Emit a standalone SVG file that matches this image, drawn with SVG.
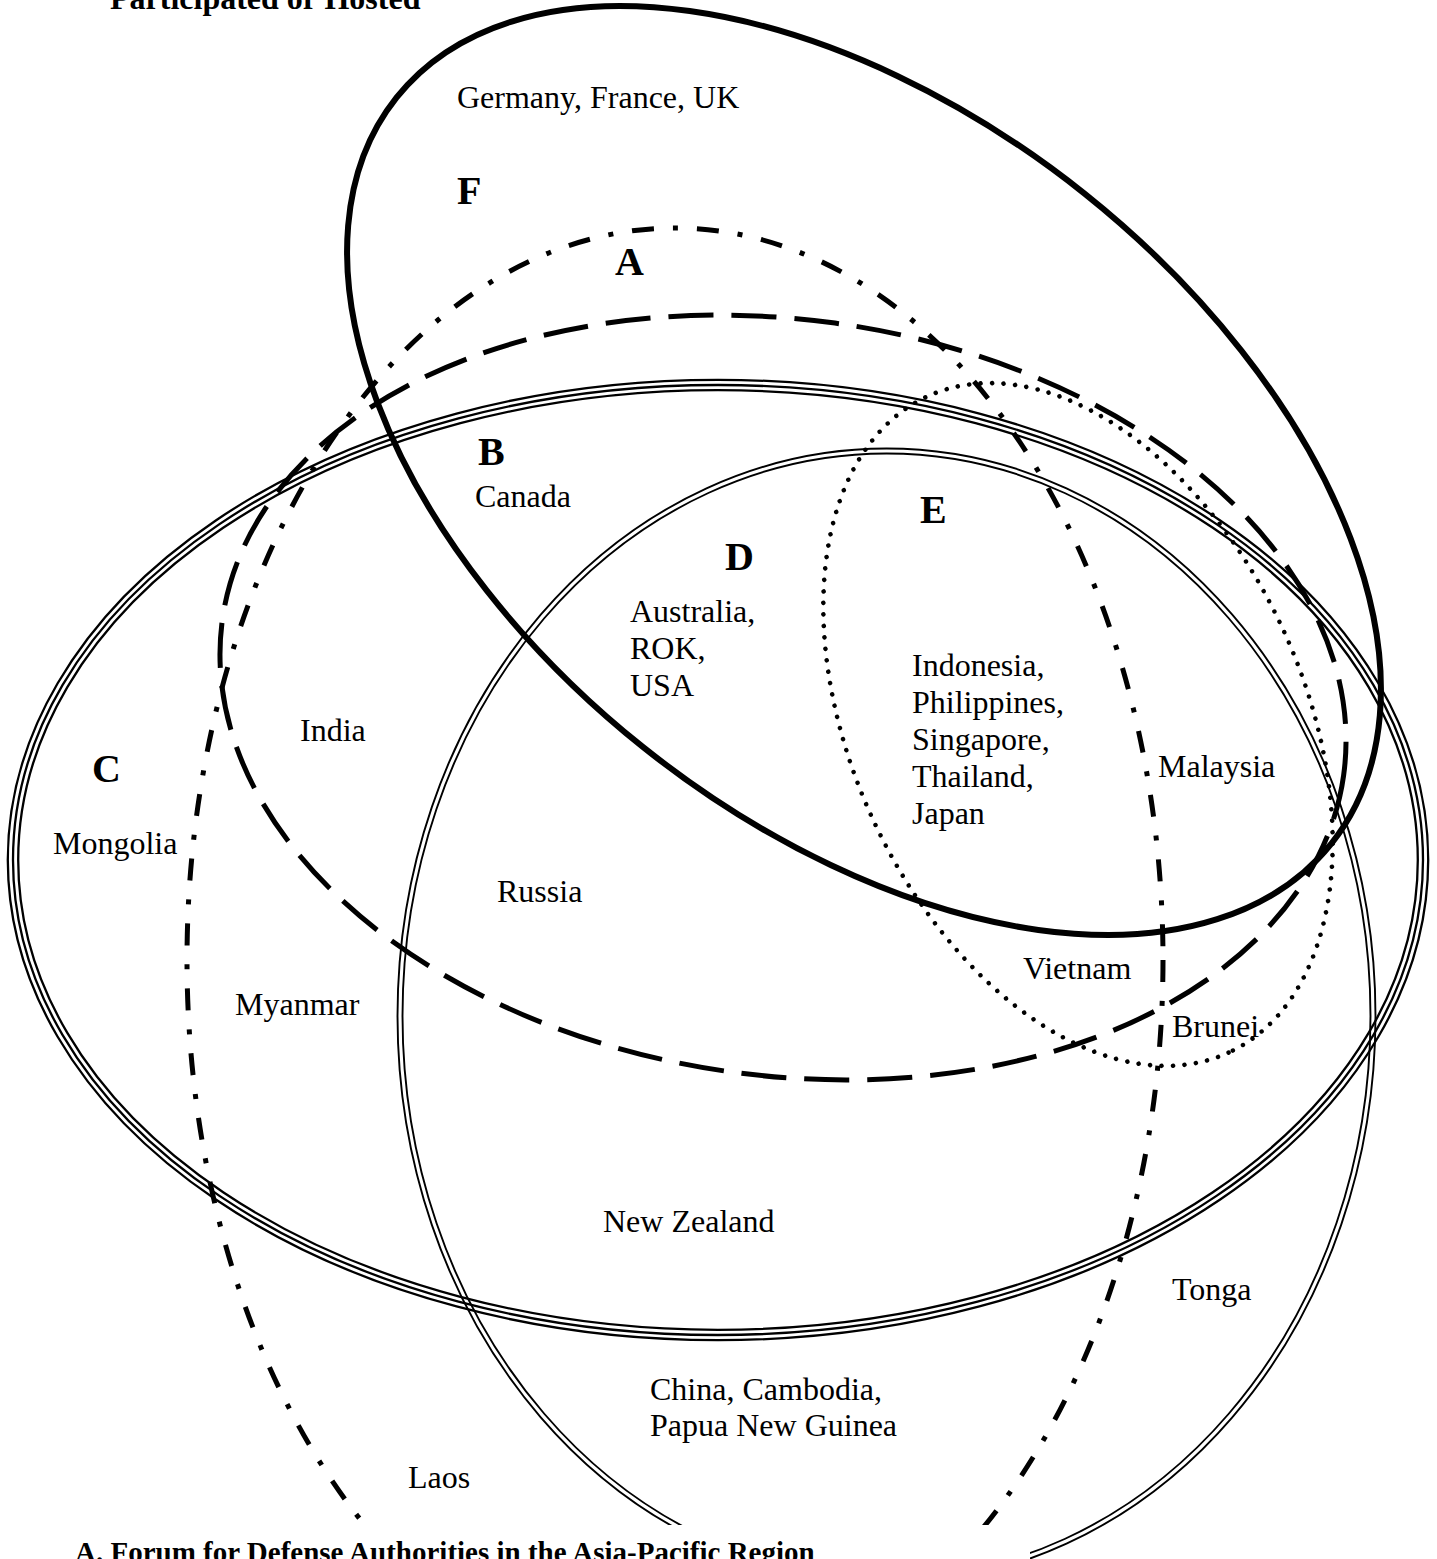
<svg xmlns="http://www.w3.org/2000/svg" width="1437" height="1559" viewBox="0 0 1437 1559">
<style>
.ln{fill:none;stroke:#000}
.f{stroke-width:6}
.a{stroke-width:5;stroke-dasharray:22 19 5 19}
.b{stroke-width:5;stroke-dasharray:45 18}
.c{stroke-width:2.3}
.d{stroke-width:1.9}
.e{stroke-width:4.5;stroke-dasharray:0 11.5;stroke-linecap:round}
text{font-family:"Liberation Serif","Times New Roman",serif;fill:#000}
.t{font-size:32px}
.lab{font-size:40px;font-weight:bold}
.cap{font-weight:bold}
</style>
<rect width="1437" height="1559" fill="#fff"/>
<g id="set-C">
<ellipse class="ln c" cx="718" cy="860" rx="710.2" ry="480.2"/>
<ellipse class="ln c" cx="718" cy="860" rx="705" ry="475"/>
<ellipse class="ln c" cx="718" cy="860" rx="699.8" ry="469.8"/>
<text class="lab" x="92" y="782">C</text>
</g>
<g id="set-D">
<ellipse class="ln d" cx="886.5" cy="1016" rx="489" ry="567.5"/>
<ellipse class="ln d" cx="886.5" cy="1016" rx="484" ry="562.5"/>
<text class="lab" x="725" y="570">D</text>
</g>
<g id="set-A">
<ellipse class="ln a" cx="675" cy="960" rx="488" ry="732"/>
<text class="lab" x="615" y="275">A</text>
</g>
<g id="set-B">
<ellipse class="ln b" cx="783" cy="697.5" rx="566" ry="378" transform="rotate(7.9 783 697.5)"/>
<text class="lab" x="478" y="465">B</text>
</g>
<g id="set-E">
<ellipse class="ln e" cx="1078" cy="724.5" rx="361" ry="226" transform="rotate(65.35 1078 724.5)"/>
<text class="lab" x="920" y="523">E</text>
</g>
<g id="set-F">
<ellipse class="ln f" cx="864" cy="470.5" rx="598" ry="354" transform="rotate(38.6 864 470.5)"/>
<text class="lab" x="457" y="204">F</text>
</g>
<g id="countries">
<text class="t" x="457" y="108">Germany, France, UK</text>
<text class="t" x="475" y="507">Canada</text>
<text class="t" x="630" y="622">Australia,</text>
<text class="t" x="630" y="659">ROK,</text>
<text class="t" x="630" y="696">USA</text>
<text class="t" x="912" y="676">Indonesia,</text>
<text class="t" x="912" y="713">Philippines,</text>
<text class="t" x="912" y="750">Singapore,</text>
<text class="t" x="912" y="787">Thailand,</text>
<text class="t" x="912" y="824">Japan</text>
<text class="t" x="300" y="741">India</text>
<text class="t" x="1158" y="777">Malaysia</text>
<text class="t" x="53" y="854">Mongolia</text>
<text class="t" x="497" y="902">Russia</text>
<text class="t" x="1023" y="979">Vietnam</text>
<text class="t" x="235" y="1015">Myanmar</text>
<text class="t" x="1172" y="1037">Brunei</text>
<text class="t" x="603" y="1232">New Zealand</text>
<text class="t" x="1172" y="1300">Tonga</text>
<text class="t" x="650" y="1400">China, Cambodia,</text>
<text class="t" x="650" y="1436">Papua New Guinea</text>
<text class="t" x="408" y="1488">Laos</text>
</g>
<rect x="0" y="1525" width="1030" height="34" fill="#fff"/>
<g id="titles">
<text class="cap" x="110" y="9" font-size="32">Participated or Hosted</text>
<text class="cap" x="75" y="1562" font-size="29">A. Forum for Defense Authorities in the Asia-Pacific Region</text>
</g>
</svg>
